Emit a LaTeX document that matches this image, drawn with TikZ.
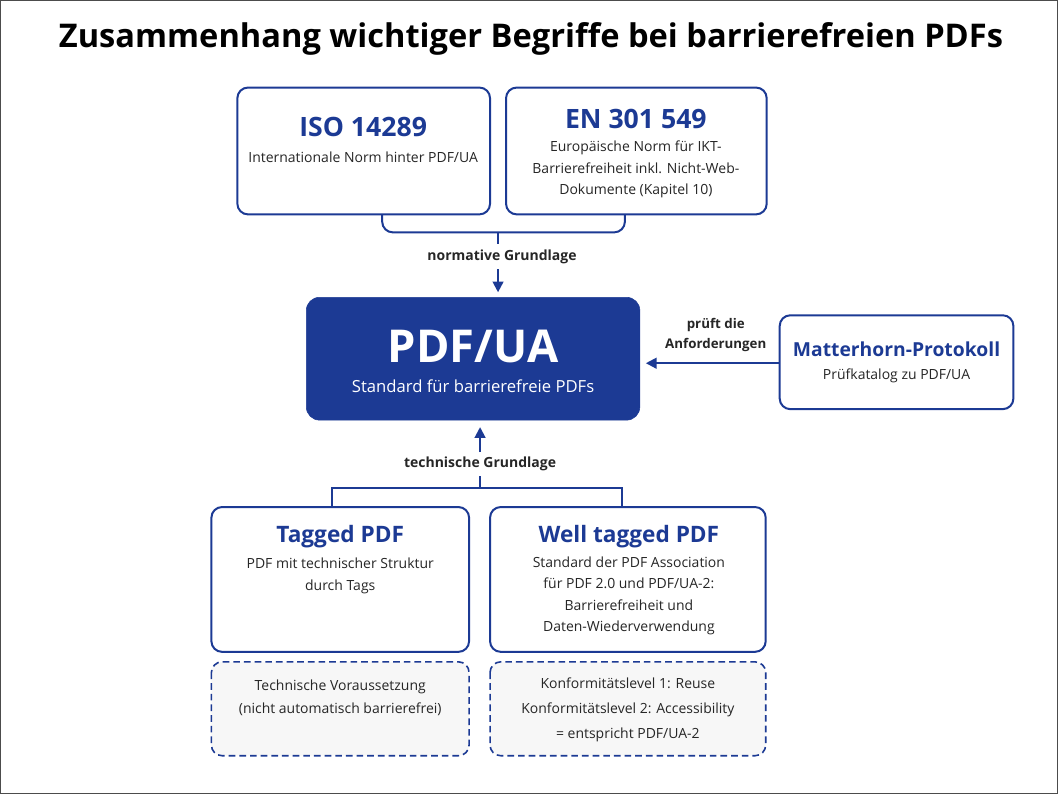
\documentclass[tikz,border=0pt]{standalone}
\usepackage{fontspec}
\setmainfont{Open Sans}
\usetikzlibrary{arrows.meta}
\definecolor{navy}{HTML}{1C3A94}
\begin{document}
\begin{tikzpicture}[x=0.75pt,y=-0.75pt,
 box/.style={draw=navy,line width=1.5pt,rounded corners=8pt,fill=white},
 dbox/.style={draw=navy,line width=1.2pt,dashed,dash pattern=on 5pt off 3pt,rounded corners=8pt,fill=black!3},
 ttl/.style={text=navy,font=\bfseries\fontsize{19}{22}\selectfont},
 txt/.style={font=\fontsize{10.5}{16}\selectfont,align=center,text=black!85},
 lbl/.style={font=\bfseries\fontsize{10.5}{13}\selectfont,align=center,text=black!85},
 con/.style={draw=navy,line width=1.5pt},
 arr/.style={con,-{Triangle[length=8pt,width=8pt]}}]
\path[use as bounding box,draw=black!70,line width=1pt] (0,0) rectangle (1058,794);
\node[font=\bfseries\fontsize{24.5}{28}\selectfont] (title) at (531,38) {Zusammenhang wichtiger Begriffe bei barrierefreien PDFs};
% top boxes
\draw[box] (237,87) rectangle (490,214);
\node[ttl,font=\bfseries\fontsize{20}{24}\selectfont] (iso) at (363,126) {ISO 14289};
\node[txt] (isot) at (363,157) {Internationale Norm hinter PDF/UA};
\draw[box] (506,87) rectangle (767,214);
\node[ttl,font=\bfseries\fontsize{20}{24}\selectfont] (en) at (636,118) {EN 301 549};
\node[txt] (ent) at (636,169) {Europäische Norm für IKT-\\Barrierefreiheit inkl. Nicht-Web-\\Dokumente (Kapitel 10)};
% brace
\draw[con,rounded corners=8pt] (382,214) -- (382,232) -- (625,232) -- (625,214);
\coordinate (bm) at (498,232);
\coordinate (bt) at (498,244);
\draw[con] (bm) -- (bt);
\node[lbl] (norm) at (502,257) {normative Grundlage};
\coordinate (na) at (498,269);
\coordinate (nb) at (498,292);
\draw[arr] (na) -- (nb);
% PDF/UA
\draw[navy,fill=navy,rounded corners=10pt] (306,297) rectangle (640,420);
\node[text=white,font=\bfseries\fontsize{34}{40}\selectfont] (ua) at (473,346) {PDF/UA};
\node[text=white,font=\fontsize{12.5}{15}\selectfont] (uat) at (473,386) {Standard für barrierefreie PDFs};
% Matterhorn
\draw[box] (780,315) rectangle (1014,409);
\node[ttl,font=\bfseries\fontsize{14.5}{18}\selectfont] (mh) at (897,349) {Matterhorn-Protokoll};
\node[txt] (mht) at (897,376) {Prüfkatalog zu PDF/UA};
\coordinate (ma) at (780,363);
\coordinate (mb) at (646,363);
\draw[arr] (ma) -- (mb);
\node[lbl,font=\bfseries\fontsize{10}{15}\selectfont] (pr) at (716,335) {prüft die\\Anforderungen};
% technische Grundlage
\node[lbl] (tech) at (480,464) {technische Grundlage};
\coordinate (ta) at (480,452);
\coordinate (tb) at (480,427);
\draw[arr] (ta) -- (tb);
\coordinate (tc) at (480,476);
\draw[con] (tc) -- (480,488);
\draw[con] (332,507) -- (332,488) -- (622,488) -- (622,507);
% bottom boxes
\draw[box] (211,507) rectangle (469,652);
\node[ttl,font=\bfseries\fontsize{17}{20}\selectfont] (tp) at (340,537) {Tagged PDF};
\node[txt] (tpt) at (340,576) {PDF mit technischer Struktur\\durch Tags};
\draw[box] (490,507) rectangle (766,652);
\node[ttl,font=\bfseries\fontsize{17}{20}\selectfont] (wt) at (629,537) {Well tagged PDF};
\node[txt] (wtt) at (629,596) {Standard der PDF Association\\für PDF 2.0 und PDF/UA-2:\\Barrierefreiheit und\\Daten-Wiederverwendung};
\draw[dbox] (211,662) rectangle (469,756);
\node[txt,font=\fontsize{10.5}{18}\selectfont] (tv) at (340,698) {Technische Voraussetzung\\(nicht automatisch barrierefrei)};
\draw[dbox] (490,662) rectangle (766,756);
\node[txt,font=\fontsize{10.5}{18.5}\selectfont] (kl) at (628,710) {Konformitätslevel 1: Reuse\\Konformitätslevel 2: Accessibility\\= entspricht PDF/UA-2};
\end{tikzpicture}
\end{document}
